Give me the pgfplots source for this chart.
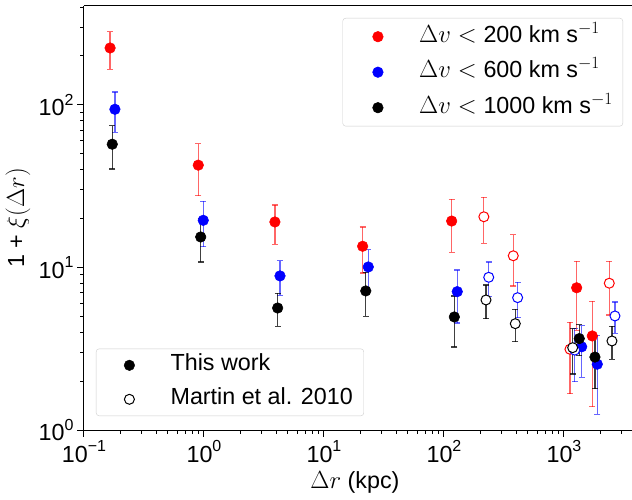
\documentclass[border=0pt]{standalone}
\usepackage{fontspec}
\setmainfont{Liberation Sans}
\usepackage{pgfplots}
\usepackage{pgfplotstable}
\pgfplotsset{compat=1.18}
\newcommand\ex[1]{\raisebox{0.45em}{\fontsize{16bp}{16bp}\selectfont #1}}

% x, y, symmetric error
\pgfplotstableread{
x y e
0.165 224 58
0.896 42.6 15
3.90 19.05 5.15
21.0 13.5 4.25
115.9 19.3 6.9
1276 7.5 3.4
1722 3.79 2.4
}\redthis
\pgfplotstableread{
x y e
215 20.5 6.45
378 11.8 4.1
1122 3.14 1.47
2386 8.0 2.9
}\redmartin
\pgfplotstableread{
x y e
0.181 94 26.2
0.986 19.5 6.05
4.30 8.87 2.13
23.4 10.07 2.82
129 7.1 2.55
1405 3.25 1.14
1895 2.54 1.29
}\bluethis
\pgfplotstableread{
x y e
236 8.7 2.1
411 6.52 1.6
1230 3.1 1.12
2661 5.03 1.1
}\bluemartin
\pgfplotstableread{
x y e
0.172 57.3 17
0.939 15.4 4.6
4.11 5.63 1.29
22.3 7.17 2.15
122 4.96 1.72
1341 3.65 0.79
1812 2.81 1.01
}\blackthis
\pgfplotstableread{
x y e
224 6.31 1.48
393 4.51 1.01
1182 3.21 1.0
2512 3.53 0.81
}\blackmartin

\begin{document}
\begin{tikzpicture}
\begin{axis}[scale only axis, width=548bp, height=424bp,
  xmode=log, ymode=log, xmin=0.1, xmax=3690, ymin=1, ymax=406,
  font=\fontsize{23.3bp}{28bp}\selectfont,
  axis y line*=left, y axis line style={-},
  axis line style={line width=1bp, black},
  xtick pos=left, ytick pos=left,
  tick align=outside,
  major tick length=7bp, minor tick length=4bp,
  tick style={black, line width=1bp},
  xtick={0.1,1,10,100,1000},
  xticklabels={10\ex{−1},10\ex{0},10\ex{1},10\ex{2},10\ex{3}},
  minor xtick={0.2,0.3,0.4,0.5,0.6,0.7,0.8,0.9,2,3,4,5,6,7,8,9,20,30,40,50,60,70,80,90,200,300,400,500,600,700,800,900,2000,3000},
  ytick={1,10,100},
  yticklabels={10\ex{0},10\ex{1},10\ex{2}},
  minor ytick={2,3,4,5,6,7,8,9,20,30,40,50,60,70,80,90,200,300,400},
  xlabel={$\Delta r$ (kpc)},
  ylabel={1 + $\xi(\Delta r)$},
  xlabel style={at={(axis description cs:0.4945,-0.1226)}, anchor=center},
  ylabel style={at={(axis description cs:-0.1204,0.5)}, anchor=center},
  legend cell align=left,
  legend image code/.code={\path (0bp,0bp) (66bp,0bp); \draw[#1, fill opacity=1, draw opacity=1] plot coordinates {(31bp,0bp)};},
  legend style={at={(0.9836,0.9717)}, anchor=north east,
    draw=black!20, rounded corners=3bp, fill=white, fill opacity=0.8, text opacity=1,
    inner xsep=4bp, inner ysep=8bp, row sep=14.5bp,
    nodes={inner ysep=0bp, inner xsep=6bp, text height=16bp, text depth=5bp}},
  clip=false,
]
\addplot[only marks, mark=*, mark size=5.3bp, color=red, mark options={fill=red, draw=red, line width=0.5bp},
    error bars/.cd, y dir=both, y explicit,
    error bar style={red, opacity=0.6, line width=1.2bp},
    error mark options={rotate=90, mark size=3bp, red, opacity=0.6, line width=1.2bp}]
  table[x=x,y=y,y error=e] {\redthis};
\addlegendentry{$\Delta v<{}$200 km s$^{-1}$}
\addplot[only marks, mark=*, mark size=5.3bp, color=blue, mark options={fill=blue, draw=blue, line width=0.5bp},
    error bars/.cd, y dir=both, y explicit,
    error bar style={blue, opacity=0.6, line width=1.2bp},
    error mark options={rotate=90, mark size=3bp, blue, opacity=0.6, line width=1.2bp}]
  table[x=x,y=y,y error=e] {\bluethis};
\addlegendentry{$\Delta v<{}$600 km s$^{-1}$}
\addplot[only marks, mark=*, mark size=5.3bp, color=black, mark options={fill=black, draw=black, line width=0.5bp},
    error bars/.cd, y dir=both, y explicit,
    error bar style={black, opacity=0.75, line width=1.2bp},
    error mark options={rotate=90, mark size=3bp, black, opacity=0.75, line width=1.2bp}]
  table[x=x,y=y,y error=e] {\blackthis};
\addlegendentry{$\Delta v<{}$1000 km s$^{-1}$}
\addplot[forget plot, only marks, mark=*, mark size=5bp, color=red, mark options={fill=white, draw=red, line width=1bp},
    error bars/.cd, y dir=both, y explicit,
    error bar style={red, opacity=0.6, line width=1.2bp},
    error mark options={rotate=90, mark size=3bp, red, opacity=0.6, line width=1.2bp}]
  table[x=x,y=y,y error=e] {\redmartin};
\addplot[forget plot, only marks, mark=*, mark size=5bp, color=blue, mark options={fill=white, draw=blue, line width=1bp},
    error bars/.cd, y dir=both, y explicit,
    error bar style={blue, opacity=0.6, line width=1.2bp},
    error mark options={rotate=90, mark size=3bp, blue, opacity=0.6, line width=1.2bp}]
  table[x=x,y=y,y error=e] {\bluemartin};
\addplot[forget plot, only marks, mark=*, mark size=5bp, color=black, mark options={fill=white, draw=black, line width=1bp},
    error bars/.cd, y dir=both, y explicit,
    error bar style={black, opacity=0.75, line width=1.2bp},
    error mark options={rotate=90, mark size=3bp, black, opacity=0.75, line width=1.2bp}]
  table[x=x,y=y,y error=e] {\blackmartin};
\end{axis}
\begin{axis}[scale only axis, width=548bp, height=424bp,
  xmode=log, ymode=log, xmin=0.1, xmax=3690, ymin=1, ymax=406, hide axis,
  font=\fontsize{23.3bp}{28bp}\selectfont,
  legend cell align=left,
  legend image code/.code={\path (0bp,0bp) (63bp,0bp); \draw[#1, fill opacity=1, draw opacity=1] plot coordinates {(28bp,0bp)};},
  legend style={at={(0.0219,0.033)}, anchor=south west,
    draw=black!20, rounded corners=3bp, fill=white, fill opacity=0.8, text opacity=1,
    inner xsep=5bp, inner ysep=6bp, row sep=13bp,
    nodes={inner ysep=0bp, inner xsep=6bp, text height=16bp, text depth=5bp}},
]
\addlegendimage{only marks, mark=*, mark size=5.3bp, black}
\addlegendentry{This work}
\addlegendimage{only marks, mark=*, mark size=5bp, mark options={fill=white, draw=black, line width=1bp}}
\addlegendentry{Martin et al. 2010}
\end{axis}
\pgfresetboundingbox
\useasboundingbox (-84bp,-70bp) rectangle (548bp,430bp);
\end{tikzpicture}
\end{document}
